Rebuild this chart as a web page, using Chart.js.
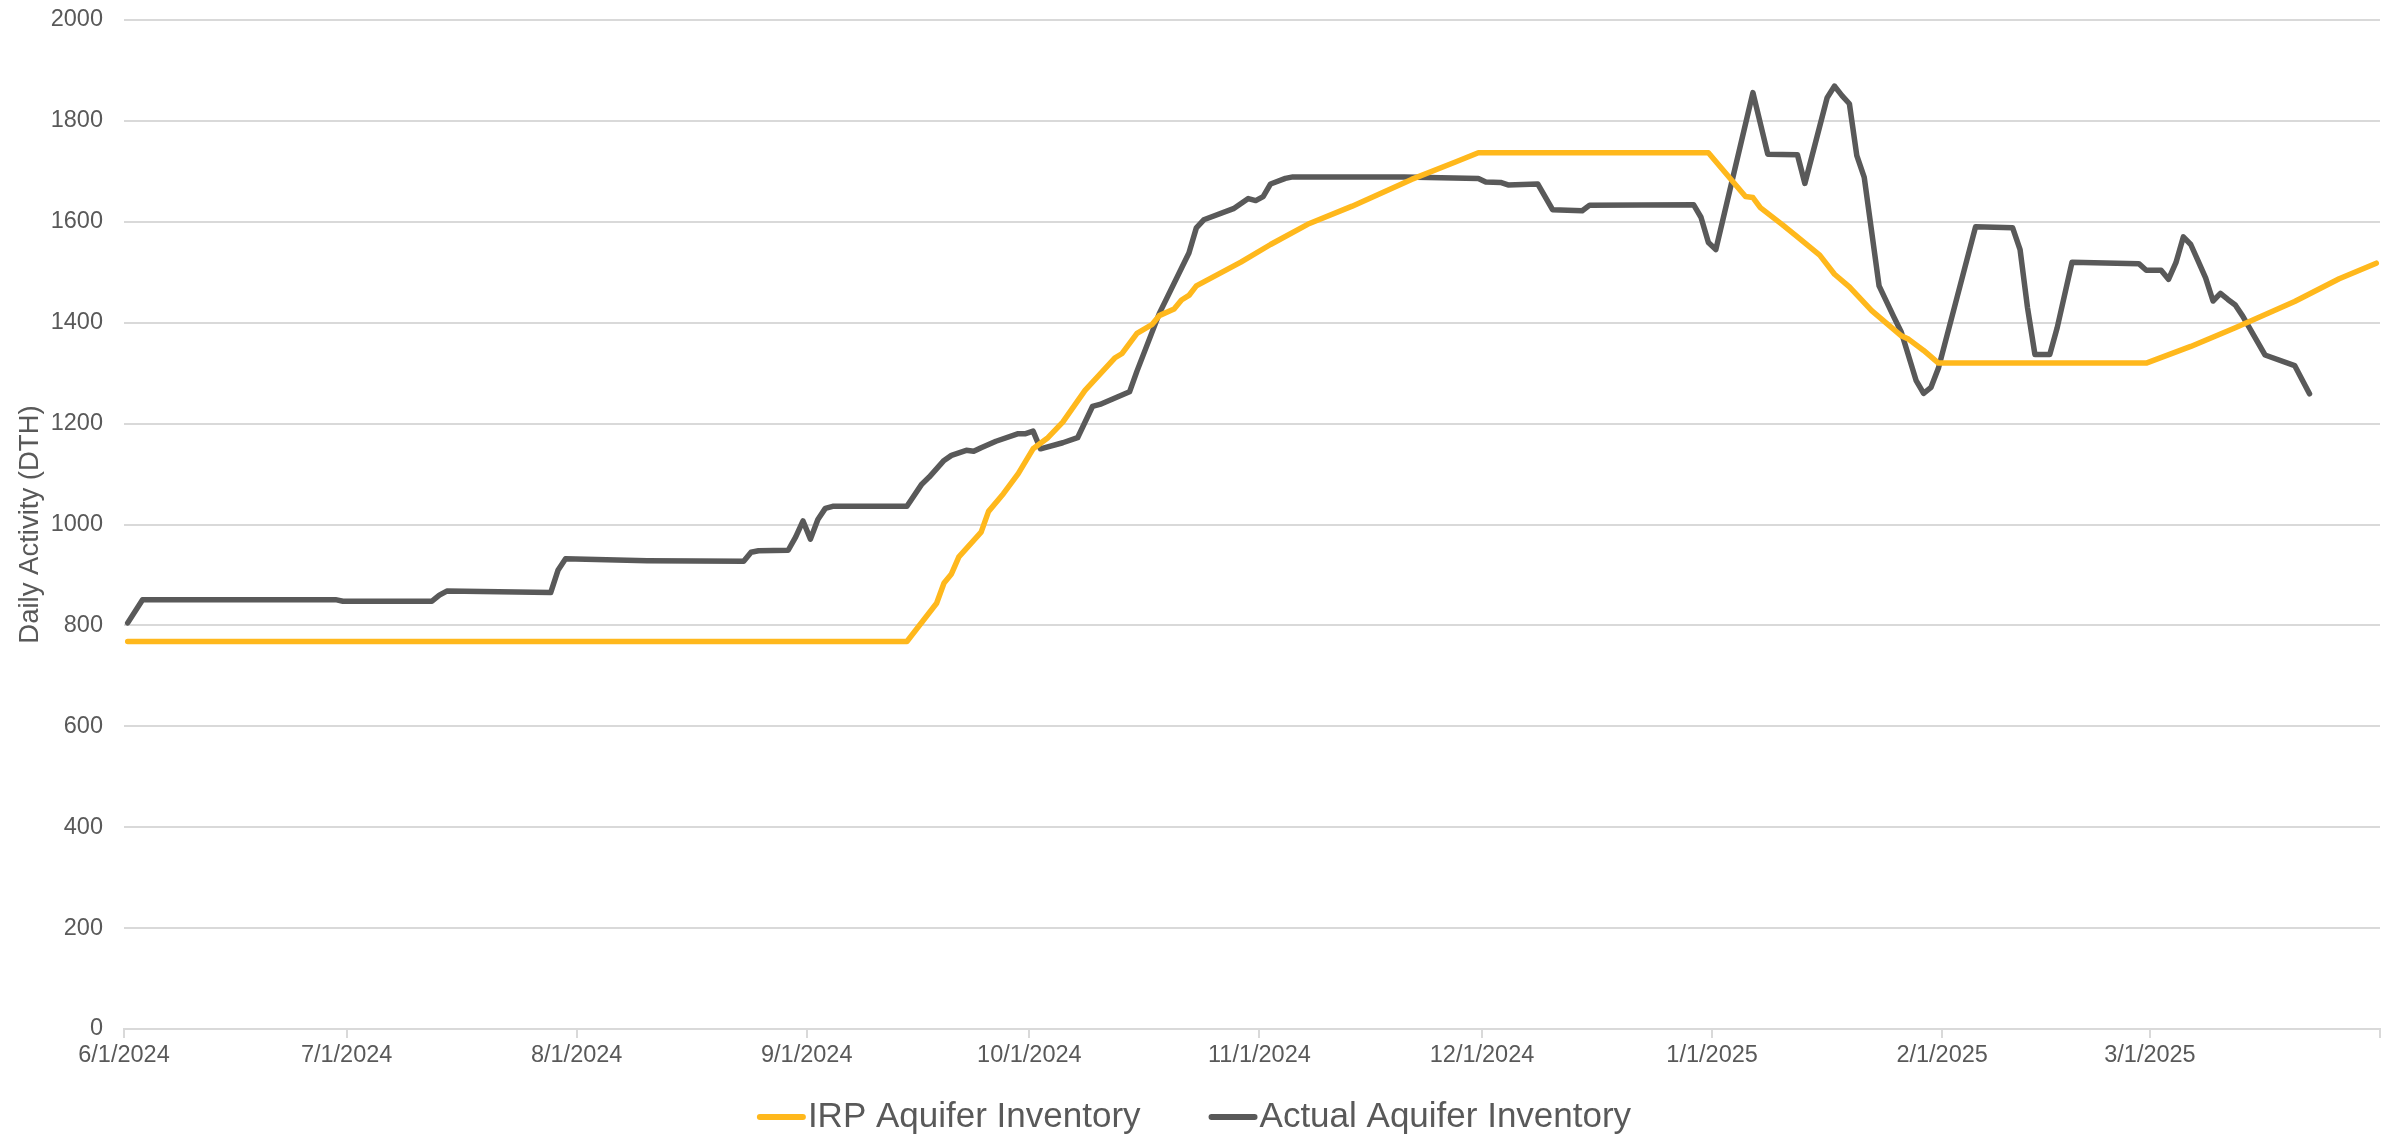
<!DOCTYPE html>
<html>
<head>
<meta charset="utf-8">
<title>Aquifer Inventory</title>
<script src="https://cdn.jsdelivr.net/npm/chart.js@4/dist/chart.umd.min.js"></script>
<style>
  html, body { margin: 0; padding: 0; background: #ffffff; }
  #wrap { width: 2397px; height: 1138px; position: relative; }
</style>
</head>
<body>
<div id="wrap"><canvas id="chart" width="2397" height="1138"></canvas></div>
<script>
// Axis range (daily slots) and month labels
const axisStart = '6/1/2024';
const axisEnd = '4/1/2025';
const monthLabels = ['6/1/2024', '7/1/2024', '8/1/2024', '9/1/2024', '10/1/2024',
  '11/1/2024', '12/1/2024', '1/1/2025', '2/1/2025', '3/1/2025'];

// IRP Aquifer Inventory (dates where the plan changes slope)
const irpDates = ['6/1/2024', '9/14/2024', '9/18/2024', '9/19/2024', '9/20/2024', '9/21/2024',
  '9/24/2024', '9/25/2024', '9/27/2024', '9/29/2024', '10/1/2024', '10/3/2024', '10/5/2024',
  '10/8/2024', '10/12/2024', '10/13/2024', '10/15/2024', '10/17/2024', '10/18/2024', '10/20/2024',
  '10/21/2024', '10/22/2024', '10/23/2024', '10/29/2024', '11/2/2024', '11/7/2024', '11/13/2024',
  '11/21/2024', '11/27/2024', '11/30/2024', '12/31/2024', '1/5/2025', '1/6/2025', '1/7/2025',
  '1/10/2025', '1/12/2025', '1/15/2025', '1/17/2025', '1/19/2025', '1/22/2025', '1/26/2025',
  '1/27/2025', '1/29/2025', '1/31/2025', '2/28/2025', '3/6/2025', '3/12/2025', '3/20/2025',
  '3/26/2025', '3/31/2025'];
const irpValues = [768, 768, 844, 884, 902, 936,
  985, 1026, 1061, 1101, 1150, 1172, 1203,
  1266, 1330, 1339, 1379, 1396, 1414, 1427,
  1445, 1454, 1473, 1520, 1555, 1595, 1631,
  1684, 1719, 1737, 1737, 1650, 1648, 1628,
  1594, 1570, 1534, 1496, 1471, 1424, 1374,
  1367, 1345, 1320, 1320, 1353, 1390, 1442,
  1487, 1518];

// Actual Aquifer Inventory
const actualDates = ['6/1/2024', '6/3/2024', '6/29/2024', '6/30/2024', '7/12/2024', '7/13/2024',
  '7/14/2024', '7/28/2024', '7/29/2024', '7/30/2024', '8/10/2024', '8/23/2024', '8/24/2024',
  '8/25/2024', '8/29/2024', '8/30/2024', '8/31/2024', '9/1/2024', '9/2/2024', '9/3/2024',
  '9/4/2024', '9/14/2024', '9/16/2024', '9/17/2024', '9/19/2024', '9/20/2024', '9/22/2024',
  '9/23/2024', '9/24/2024', '9/26/2024', '9/29/2024', '9/30/2024', '10/1/2024', '10/2/2024',
  '10/5/2024', '10/7/2024', '10/9/2024', '10/10/2024', '10/14/2024', '10/15/2024', '10/18/2024',
  '10/22/2024', '10/23/2024', '10/24/2024', '10/28/2024', '10/30/2024', '10/31/2024', '11/1/2024',
  '11/2/2024', '11/4/2024', '11/5/2024', '11/20/2024', '11/30/2024', '12/1/2024', '12/3/2024',
  '12/4/2024', '12/8/2024', '12/10/2024', '12/14/2024', '12/15/2024', '12/29/2024', '12/30/2024',
  '12/31/2024', '1/1/2025', '1/6/2025', '1/8/2025', '1/12/2025', '1/13/2025', '1/16/2025',
  '1/17/2025', '1/18/2025', '1/19/2025', '1/20/2025', '1/21/2025', '1/23/2025', '1/25/2025',
  '1/26/2025', '1/28/2025', '1/29/2025', '1/30/2025', '1/31/2025', '2/5/2025', '2/10/2025',
  '2/11/2025', '2/12/2025', '2/13/2025', '2/15/2025', '2/16/2025', '2/18/2025', '2/27/2025',
  '2/28/2025', '3/2/2025', '3/3/2025', '3/4/2025', '3/5/2025', '3/6/2025', '3/7/2025',
  '3/8/2025', '3/9/2025', '3/10/2025', '3/11/2025', '3/12/2025', '3/13/2025', '3/16/2025',
  '3/20/2025', '3/22/2025'];
const actualValues = [805, 851, 851, 848, 848, 860,
  868, 865, 910, 932, 928, 927, 945,
  948, 949, 975, 1007, 971, 1010, 1032,
  1036, 1036, 1080, 1094, 1127, 1137, 1147,
  1145, 1152, 1165, 1180, 1180, 1185, 1150,
  1162, 1172, 1234, 1238, 1263, 1304, 1418,
  1538, 1588, 1604, 1626, 1646, 1642, 1650,
  1675, 1686, 1689, 1689, 1686, 1679, 1678,
  1673, 1675, 1624, 1622, 1633, 1634, 1609,
  1559, 1545, 1856, 1734, 1733, 1676, 1846,
  1869, 1850, 1834, 1731, 1688, 1473, 1411,
  1381, 1285, 1260, 1272, 1310, 1590, 1588,
  1545, 1430, 1337, 1337, 1390, 1520, 1517,
  1504, 1504, 1486, 1519, 1570, 1555, 1522,
  1489, 1443, 1458, 1446, 1435, 1413, 1336,
  1315, 1259];

const irpColor = '#FFB81C';
const actualColor = '#595959';
const textColor = '#595959';
const gridColor = '#D9D9D9';
const fontFamily = '"Liberation Sans", Arial, Helvetica, sans-serif';

// Days since the first slot; each daily value sits in the middle of its day
function dayIndex(s) {
  const [m, d, y] = s.split('/').map(Number);
  const [m0, d0, y0] = axisStart.split('/').map(Number);
  return Math.round((Date.UTC(y, m - 1, d) - Date.UTC(y0, m0 - 1, d0)) / 864e5);
}
function toPoints(dates, values) {
  return dates.map((s, i) => ({ x: dayIndex(s) + 0.5, y: values[i] }));
}
const monthValues = monthLabels.map(dayIndex);
const tickValues = monthValues.concat([dayIndex(axisEnd)]);

// Keep the plot area fixed: no extra room for overhanging edge labels
function dropEdgePadding(scale) {
  scale.paddingTop = 0;
  scale.paddingBottom = 0;
  scale.paddingLeft = 0;
  scale.paddingRight = 0;
}

// Legend row under the axis: short thick line, then the series name
const lineLegend = {
  id: 'lineLegend',
  afterDraw(chart, args, opts) {
    const ctx = chart.ctx;
    const items = chart.data.datasets;
    ctx.save();
    ctx.font = opts.fontSize + 'px ' + fontFamily;
    const widths = items.map(ds => ctx.measureText(ds.label).width);
    const itemW = widths.map(w => opts.sample + opts.textGap + w);
    const total = itemW.reduce((a, b) => a + b, 0) + opts.itemGap * (items.length - 1);
    let x = opts.centerX - total / 2;
    const y = opts.y;
    items.forEach((ds, i) => {
      ctx.strokeStyle = ds.borderColor;
      ctx.lineWidth = opts.thickness;
      ctx.lineCap = 'round';
      ctx.beginPath();
      ctx.moveTo(x + opts.thickness / 2, y);
      ctx.lineTo(x + opts.sample - opts.thickness / 2, y);
      ctx.stroke();
      ctx.fillStyle = textColor;
      ctx.textBaseline = 'middle';
      ctx.textAlign = 'left';
      ctx.fillText(ds.label, x + opts.sample + opts.textGap, y);
      x += itemW[i] + opts.itemGap;
    });
    ctx.restore();
  }
};

new Chart(document.getElementById('chart'), {
  type: 'line',
  data: {
    datasets: [
      {
        label: 'IRP Aquifer Inventory',
        data: toPoints(irpDates, irpValues),
        borderColor: irpColor,
        backgroundColor: irpColor,
        borderWidth: 5.5,
        pointRadius: 0,
        tension: 0,
        borderJoinStyle: 'round',
        borderCapStyle: 'round'
      },
      {
        label: 'Actual Aquifer Inventory',
        data: toPoints(actualDates, actualValues),
        borderColor: actualColor,
        backgroundColor: actualColor,
        borderWidth: 5.5,
        pointRadius: 0,
        tension: 0,
        borderJoinStyle: 'round',
        borderCapStyle: 'round'
      }
    ]
  },
  options: {
    responsive: false,
    animation: false,
    events: [],
    layout: { padding: { left: 0, right: 17, top: 20, bottom: 43 } },
    scales: {
      x: {
        type: 'linear',
        min: 0,
        max: dayIndex(axisEnd),
        afterBuildTicks: (scale) => {
          scale.ticks = tickValues.map(v => ({ value: v }));
        },
        afterFit: (scale) => { scale.height = 66; dropEdgePadding(scale); },
        ticks: {
          autoSkip: false,
          maxRotation: 0,
          minRotation: 0,
          padding: 3,
          color: textColor,
          font: { family: fontFamily, size: 23.5 },
          callback: (value) => {
            const i = monthValues.indexOf(value);
            return i >= 0 ? monthLabels[i] : '';
          }
        },
        grid: {
          drawOnChartArea: false,
          drawTicks: true,
          tickLength: 9,
          color: gridColor,
          lineWidth: 2
        },
        border: { display: true, color: gridColor, width: 2 }
      },
      y: {
        min: 0,
        max: 2000,
        afterFit: (scale) => { scale.width = 124; dropEdgePadding(scale); },
        ticks: {
          stepSize: 200,
          padding: 21,
          color: textColor,
          font: { family: fontFamily, size: 23.5 },
          callback: (value) => String(value)
        },
        grid: {
          color: gridColor,
          lineWidth: 2,
          drawTicks: false
        },
        border: { display: false },
        title: {
          display: true,
          text: 'Daily Activity (DTH)',
          color: textColor,
          font: { family: fontFamily, size: 27.5 },
          padding: { top: 14, bottom: 0 }
        }
      }
    },
    plugins: {
      tooltip: { enabled: false },
      legend: { display: false },
      lineLegend: {
        fontSize: 35,
        sample: 49,
        thickness: 6,
        textGap: 2,
        itemGap: 68,
        centerX: 1194,
        y: 1117
      }
    }
  },
  plugins: [lineLegend]
});
</script>
</body>
</html>
